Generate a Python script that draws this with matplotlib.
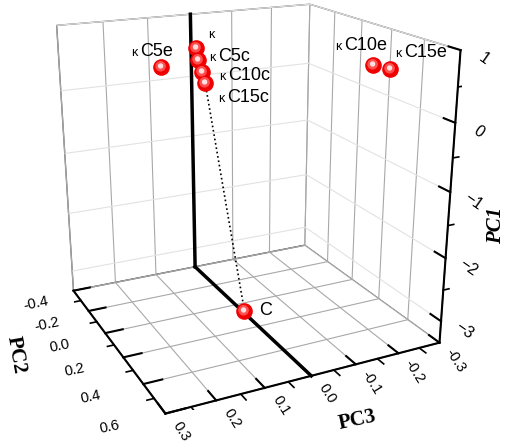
import matplotlib
matplotlib.use("Agg")
import matplotlib.pyplot as plt
import numpy as np
from matplotlib.path import Path
from mpl_toolkits.mplot3d import proj3d

# PCA scores: PC3 (x), PC2 (y), PC1 (z)
names = ["κ", "κC5c", "κC10c", "κC15c", "C", "κC5e", "κC10e", "κC15e"]
pc3 = [0.0, 0.0, -0.003, -0.006, 0.0, 0.095, -0.27, -0.28]
pc2 = [-0.35, -0.33, -0.31, -0.29, 0.08, -0.30, 0.17, 0.25]
pc1 = [0.50, 0.32, 0.15, -0.02, -3.32, 0.30, 0.46, 0.47]

# label offsets in pixels (dx, dy) from each marker to the text baseline
label_dx = [12, 11, 17, 13, 15, -29, -38, 6]
label_dy = [10, -1, -8, -19, -4, 11, 15, 12]

# series joined by the dotted path
path_names = ["κ", "κC5c", "κC10c", "κC15c", "C"]

pc3_ticks = [-0.3, -0.2, -0.1, 0.0, 0.1, 0.2, 0.3]
pc2_ticks = [-0.4, -0.2, 0.0, 0.2, 0.4, 0.6]
pc1_ticks = [-3, -2, -1, 0, 1]
pc3_minor = [-0.25, -0.15, -0.05, 0.05, 0.15, 0.25]
pc2_minor = [-0.3, -0.1, 0.1, 0.3, 0.5]
pc1_minor = [-2.5, -1.5, -0.5, 0.5]

xlim = (-0.3, 0.3)
ylim = (-0.4, 0.6)
zlim = (-3.35, 1.0)

plt.rcParams["font.family"] = ["Liberation Sans", "DejaVu Sans"]

fig = plt.figure(figsize=(5.08, 4.43), dpi=100)
ax = fig.add_axes([-0.026, 0.0735, 1, 1], projection="3d")
ax.set_proj_type("persp", focal_length=0.42)
ax.view_init(elev=19.5, azim=64)
ax.set_box_aspect((1.17, 1.1, 1.18), zoom=1.09)

ax.set_xlim(*xlim)
ax.set_ylim(*ylim)
ax.set_zlim(*zlim)
ax.set_xticks(pc3_ticks)
ax.set_yticks(pc2_ticks)
ax.set_zticks(pc1_ticks)
ax.set_xticklabels([])
ax.set_yticklabels([])
ax.set_zticklabels([])

ax.zaxis.set_ticks_position("upper")

for axis in (ax.xaxis, ax.yaxis, ax.zaxis):
    axis.set_pane_color((1, 1, 1, 1))
    axis.pane.set_edgecolor("#666666")
    axis.line.set_color("black")
    axis.line.set_linewidth(1.5)
    axis._axinfo["tick"]["inward_factor"] = 0.0
    axis._axinfo["tick"]["outward_factor"] = 0.8
    axis._axinfo["tick"]["linewidth"] = {True: 1.5, False: 1.2}
ax.xaxis._axinfo["grid"].update(color="#a8a8a8", linewidth=0.8)
ax.yaxis._axinfo["grid"].update(color="#a8a8a8", linewidth=0.8)
ax.zaxis._axinfo["grid"].update(color="#e2e2e2", linewidth=0.8)

# minor ticks drawn as short outward strokes along each axis edge
for v in pc3_minor:
    ax.plot([v, v], [ylim[1], ylim[1] + 0.04], [zlim[0], zlim[0]],
            color="black", lw=1.2)
for v in pc2_minor:
    ax.plot([xlim[1], xlim[1] + 0.014], [v, v], [zlim[0], zlim[0]],
            color="black", lw=1.2)
for v in pc1_minor:
    ax.plot([xlim[0], xlim[0] - 0.014], [ylim[1], ylim[1]], [v, v],
            color="black", lw=1.2)

# zero lines: PC3 = 0 across the floor and up the back wall
ax.plot([0, 0], [ylim[0], ylim[1]], [zlim[0], zlim[0]], color="black", lw=2.5)
ax.plot([0, 0], [ylim[0], ylim[0]], [zlim[0], zlim[1]], color="black", lw=2.5)

idx = [names.index(n) for n in path_names]
ax.plot([pc3[i] for i in idx], [pc2[i] for i in idx], [pc1[i] for i in idx],
        color="black", lw=1.2, ls=":")


def spot(cx, cy, r):
    # circle marker offset inside a fixed unit box so layers stay aligned
    corners = Path([[0.5, 0.5], [-0.5, -0.5]], [Path.MOVETO, Path.MOVETO])
    circ = Path.circle((cx, cy), r)
    return Path.make_compound_path(corners, circ)


ax.scatter(pc3, pc2, pc1, s=120, marker=spot(0, 0, 0.5), color="#f00000",
           depthshade=False, zorder=5)
ax.scatter(pc3, pc2, pc1, s=120, marker=spot(-0.06, 0.08, 0.3),
           color="#ff5050", depthshade=False, zorder=6)
ax.scatter(pc3, pc2, pc1, s=120, marker=spot(-0.06, 0.1, 0.13),
           color="#ffe0e0", depthshade=False, zorder=7)

px_to_pt = 72 / fig.dpi
M = ax.get_proj()


def screen(x, y, z):
    px, py, _ = proj3d.proj_transform(x, y, z, M)
    return px, py


def put(text, xyz, dx, dy, **kw):
    ax.annotate(text, screen(*xyz), xytext=(dx * px_to_pt, dy * px_to_pt),
                textcoords="offset points", annotation_clip=False, **kw)


# tick labels
for v in pc3_ticks:
    put(f"{v:.1f}", (v, ylim[1], zlim[0]), 16, -18, fontsize=10.5,
        rotation=-58, ha="center", va="center")
for v in pc2_ticks:
    frac = (v - ylim[0]) / (ylim[1] - ylim[0])
    put(f"{v:.1f}", (xlim[1], v, zlim[0]), -38 - 18 * frac, -13,
        fontsize=10.5, rotation=12, ha="center", va="center")
for v in pc1_ticks:
    put(f"{v:d}".replace("-", "\u2212"), (xlim[0], ylim[1], v), 23, -9,
        fontsize=11.5, rotation=-35, ha="center", va="center")

# axis titles
serif = dict(fontfamily="Liberation Serif", fontweight="bold", fontsize=15,
             ha="center", va="center")
fig.text(357 / 508, 1 - 420 / 443, "PC3", rotation=12, **serif)
fig.text(16 / 508, 1 - 355 / 443, "PC2", rotation=-80, **serif)
fig.text(496 / 508, 1 - 225 / 443, "PC1", rotation=90, fontstyle="italic",
         **serif)

# point labels, with a smaller kappa prefix
for n, x, y, z, dx, dy in zip(names, pc3, pc2, pc1, label_dx, label_dy):
    if n.startswith("κ"):
        put("κ", (x, y, z), dx, dy, fontsize=9, va="baseline")
        rest, shift = n[1:], 9
    else:
        rest, shift = n, 0
    put(rest, (x, y, z), dx + shift, dy, fontsize=13, va="baseline")

fig.savefig("out.png", dpi=100)
